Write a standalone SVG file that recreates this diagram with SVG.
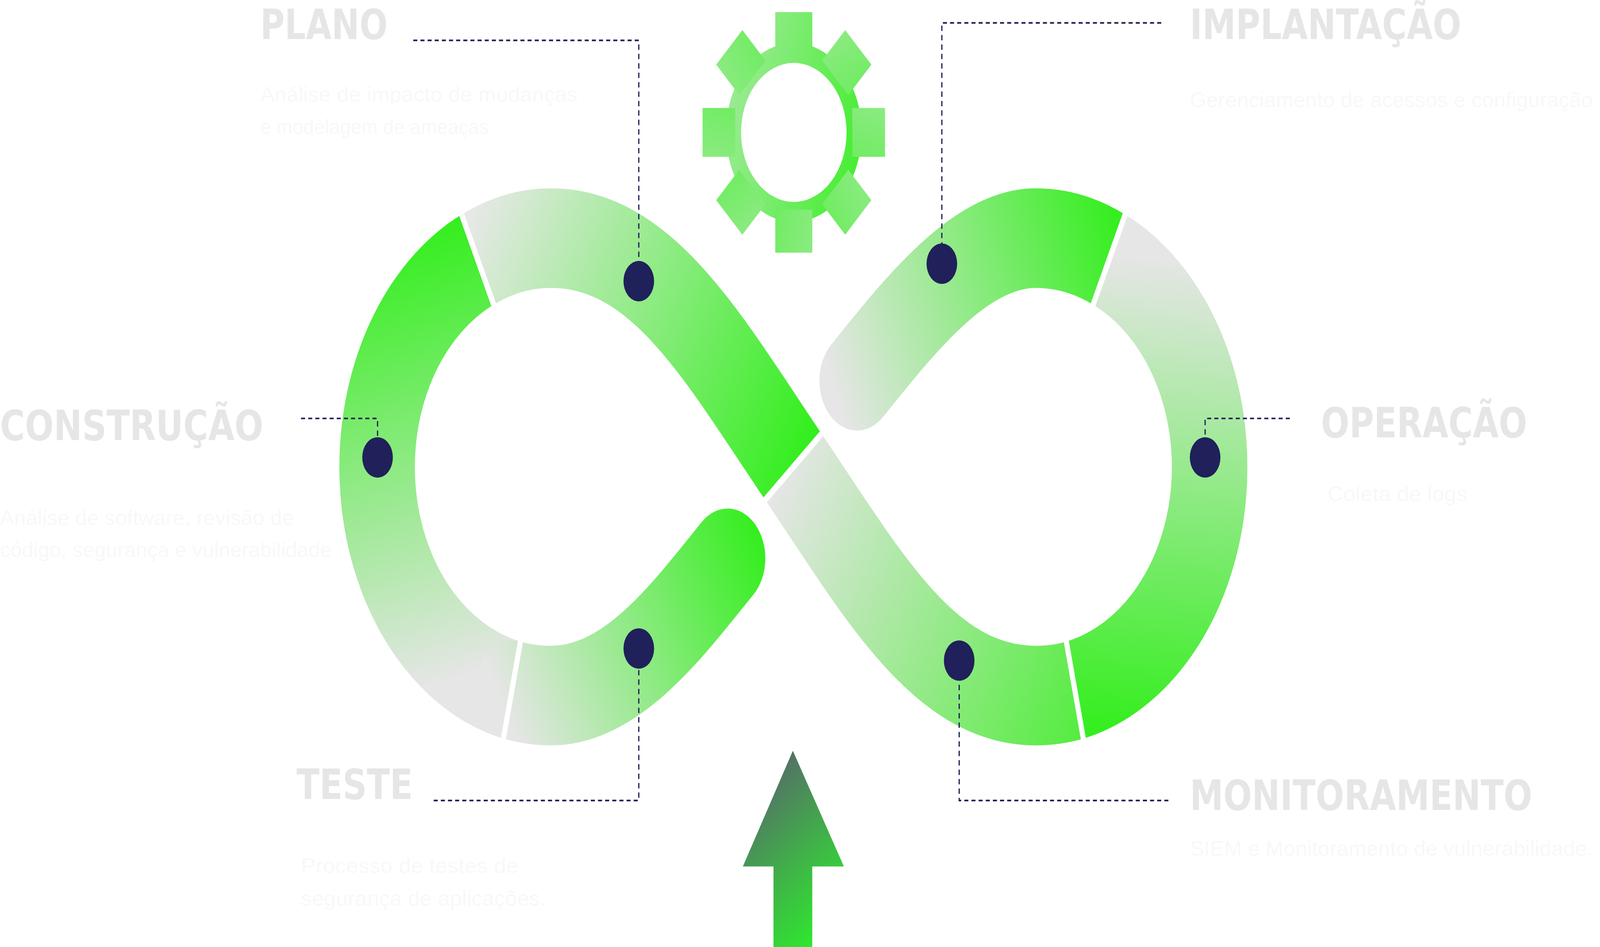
<svg xmlns="http://www.w3.org/2000/svg" width="5402" height="2425" viewBox="0 0 5402 2425" preserveAspectRatio="none" style="width:100vw;height:100vh;display:block">
<defs>
<style>
.lbl{font-family:"DejaVu Sans","Liberation Sans",sans-serif;font-weight:bold;font-size:31px;fill:#e6e6e6}
.desc{font-family:"Liberation Sans",Arial,sans-serif;font-size:15.5px;fill:#f8f8f8}
.band{fill:none;stroke-width:74}
.lead{fill:none;stroke:#20205a;stroke-width:1.2;stroke-dasharray:4 3}
.dot{fill:#20205a}
.gap{stroke:#fff;stroke-width:5}
</style>
<linearGradient id="gC" gradientUnits="userSpaceOnUse" x1="420" y1="170" x2="500" y2="540"><stop offset="0" stop-color="#35ee1f"/><stop offset="0.88" stop-color="#e6e6e6"/></linearGradient>
<linearGradient id="gP" gradientUnits="userSpaceOnUse" x1="460" y1="160" x2="790" y2="330"><stop offset="0" stop-color="#e8e8e8"/><stop offset="1" stop-color="#35ee1f"/></linearGradient>
<linearGradient id="gI" gradientUnits="userSpaceOnUse" x1="815" y1="285" x2="1100" y2="175"><stop offset="0" stop-color="#e6e6e6"/><stop offset="1" stop-color="#35ee1f"/></linearGradient>
<linearGradient id="gO" gradientUnits="userSpaceOnUse" x1="1080" y1="170" x2="1060" y2="540"><stop offset="0.05" stop-color="#e6e6e6"/><stop offset="1" stop-color="#35ee1f"/></linearGradient>
<linearGradient id="gM" gradientUnits="userSpaceOnUse" x1="760" y1="360" x2="1070" y2="530"><stop offset="0" stop-color="#e6e6e6"/><stop offset="1" stop-color="#55ec40"/></linearGradient>
<linearGradient id="gT" gradientUnits="userSpaceOnUse" x1="495" y1="530" x2="745" y2="400"><stop offset="0" stop-color="#e6e6e6"/><stop offset="1" stop-color="#35ee1f"/></linearGradient>
<linearGradient id="gG" gradientUnits="userSpaceOnUse" x1="-90" y1="-25" x2="90" y2="25"><stop offset="0" stop-color="#e6e6e6"/><stop offset="0.1" stop-color="#9fea98"/><stop offset="0.5" stop-color="#72ec64"/><stop offset="1" stop-color="#35ee1f"/></linearGradient>
<linearGradient id="gA" gradientUnits="userSpaceOnUse" x1="735" y1="590" x2="810" y2="690"><stop offset="0" stop-color="#537266"/><stop offset="1" stop-color="#30e630"/></linearGradient>
</defs>
<rect width="5402" height="2425" fill="#fff"/>
<g transform="scale(3.4452)">
<g id="infinity">
<path id="seg-construcao" class="band" stroke="url(#gC)" d="M468,193 A170,170 0 0 0 502,513"/>
<path id="seg-teste" class="band" stroke="url(#gT)" stroke-linecap="round" d="M502,513 A170,170 0 0 0 540,517 C610,517 665,460 713,415"/>
<path id="seg-implantacao" class="band" stroke="url(#gI)" stroke-linecap="round" d="M840,283 C890,236 950,177 1015,177 A170,170 0 0 1 1087,193"/>
<path id="seg-operacao" class="band" stroke="url(#gO)" d="M1087,193 A170,170 0 0 1 1053,513"/>
<path id="seg-plano" class="band" stroke="url(#gP)" d="M468,193 A170,170 0 0 1 540,177 C640,177 700,260 777.5,347"/>
<path id="seg-monitoramento" class="band" stroke="url(#gM)" d="M777.5,347 C855,434 915,517 1015,517 A170,170 0 0 0 1053,513"/>
<line class="gap" x1="485.9" y1="231" x2="450.3" y2="155"/>
<line class="gap" x1="511.2" y1="471.7" x2="492.3" y2="553.5"/>
<line class="gap" x1="1069.1" y1="231" x2="1104.7" y2="155"/>
<line class="gap" x1="1043.8" y1="471.7" x2="1062.7" y2="553.5"/>
<line class="gap" x1="746.1" y1="374.9" x2="808.9" y2="319.1"/>
</g>
<g id="gear" transform="translate(777.9,98.4)" fill="url(#gG)">
<circle r="59.1" fill="none" stroke="url(#gG)" stroke-width="14.8"/>
<rect x="-18.15" y="-89.4" width="36.3" height="32" transform="rotate(0)"/>
<rect x="-18.15" y="-89.4" width="36.3" height="32" transform="rotate(45)"/>
<rect x="-18.15" y="-89.4" width="36.3" height="32" transform="rotate(90)"/>
<rect x="-18.15" y="-89.4" width="36.3" height="32" transform="rotate(135)"/>
<rect x="-18.15" y="-89.4" width="36.3" height="32" transform="rotate(180)"/>
<rect x="-18.15" y="-89.4" width="36.3" height="32" transform="rotate(225)"/>
<rect x="-18.15" y="-89.4" width="36.3" height="32" transform="rotate(270)"/>
<rect x="-18.15" y="-89.4" width="36.3" height="32" transform="rotate(315)"/>
</g>
<g id="arrow"><path fill="url(#gA)" d="M777,558 L827,644 L796,644 L796,704 L758,704 L758,644 L728,644 Z"/></g>
<g id="connectors">
<polyline class="lead" points="405,30 626,30 626,195"/>
<polyline class="lead" points="1138,17 923,17 923,182"/>
<polyline class="lead" points="295,311 370,311 370,326"/>
<polyline class="lead" points="1264,311 1181,311 1181,326"/>
<polyline class="lead" points="425,595 626,595 626,497"/>
<polyline class="lead" points="1145,595 940,595 940,506"/>
</g>
<g id="node-plano"><circle class="dot" cx="626" cy="209" r="15"/>
<text class="lbl" x="255" y="29" textLength="125" lengthAdjust="spacingAndGlyphs">PLANO</text>
<text class="desc" x="255" y="75.5" textLength="311" lengthAdjust="spacingAndGlyphs">Análise de impacto de mudanças</text>
<text class="desc" x="255" y="99.7" textLength="224" lengthAdjust="spacingAndGlyphs">e modelagem de ameaças</text></g>
<g id="node-implantacao"><circle class="dot" cx="923" cy="196" r="15"/>
<text class="lbl" x="1166" y="29" textLength="266" lengthAdjust="spacingAndGlyphs">IMPLANTAÇÃO</text>
<text class="desc" x="1166" y="79.4" textLength="395" lengthAdjust="spacingAndGlyphs">Gerenciamento de acessos e configuração</text></g>
<g id="node-construcao"><circle class="dot" cx="370" cy="340" r="15"/>
<text class="lbl" x="0" y="327" textLength="258" lengthAdjust="spacingAndGlyphs">CONSTRUÇÃO</text>
<text class="desc" x="0" y="390" textLength="288" lengthAdjust="spacingAndGlyphs">Análise de software, revisão de</text>
<text class="desc" x="0" y="414" textLength="325" lengthAdjust="spacingAndGlyphs">código, segurança e vulnerabilidade</text></g>
<g id="node-operacao"><circle class="dot" cx="1181" cy="340" r="15"/>
<text class="lbl" x="1294.6" y="325" textLength="202" lengthAdjust="spacingAndGlyphs">OPERAÇÃO</text>
<text class="desc" x="1301" y="372.5" textLength="137" lengthAdjust="spacingAndGlyphs">Coleta de logs</text></g>
<g id="node-teste"><circle class="dot" cx="626" cy="482" r="15"/>
<text class="lbl" x="290.6" y="594" textLength="114" lengthAdjust="spacingAndGlyphs">TESTE</text>
<text class="desc" x="295" y="648.8" textLength="213" lengthAdjust="spacingAndGlyphs">Processo de testes de</text>
<text class="desc" x="295" y="673" textLength="240" lengthAdjust="spacingAndGlyphs">segurança de aplicações.</text></g>
<g id="node-monitoramento"><circle class="dot" cx="940" cy="491" r="15"/>
<text class="lbl" x="1166" y="602" textLength="335.6" lengthAdjust="spacingAndGlyphs">MONITORAMENTO</text>
<text class="desc" x="1166" y="636" textLength="395" lengthAdjust="spacingAndGlyphs">SIEM e Monitoramento de vulnerabilidade.</text></g>
</g>
</svg>
